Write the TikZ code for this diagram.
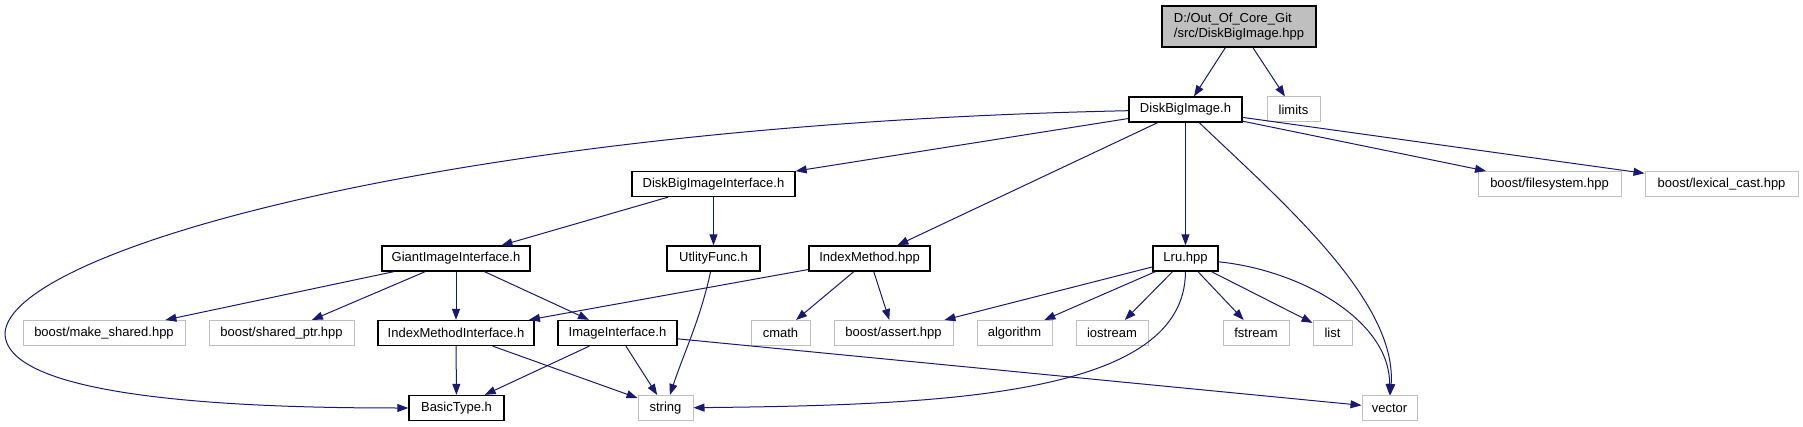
\documentclass[tikz,border=0pt]{standalone}
\usepackage{fontspec}
\setmainfont{Liberation Sans}
\usetikzlibrary{arrows.meta}
\definecolor{navy}{HTML}{191970}
\definecolor{lgrey}{HTML}{BFBFBF}

\begin{document}
\begin{tikzpicture}[x=1pt,y=-1pt,
  file/.style={draw=black,line width=1.3pt,fill=white,minimum height=25pt,inner sep=2pt,
    font=\fontsize{13}{15}\selectfont},
  sys/.style={file,draw=lgrey,line width=1pt},
  dep/.style={draw=navy,line width=1pt,-{Triangle[length=11pt,width=8pt]}}]
  \useasboundingbox (0,0) rectangle (1803,427);
  % rows: top file, DiskBigImage.h, interfaces, headers, leaves
  \node[file,fill=lgrey,minimum width=154pt,minimum height=41pt,align=left] (root) at (1239,26.5) {D:/Out\_Of\_Core\_Git\\/src/DiskBigImage.hpp};
  \node[file,minimum width=113pt] (dbi) at (1185.5,109.5) {DiskBigImage.h};
  \node[sys,minimum width=53pt] (limits) at (1293.5,109.5) {limits};
  \node[file,minimum width=163pt] (dbii) at (713.5,184) {DiskBigImageInterface.h};
  \node[sys,minimum width=143pt] (fs) at (1549.5,184) {boost/filesystem.hpp};
  \node[sys,minimum width=153pt] (lex) at (1721.5,184) {boost/lexical\_cast.hpp};
  \node[file,minimum width=148pt] (gii) at (456,258.5) {GiantImageInterface.h};
  \node[file,minimum width=93pt] (util) at (713.5,258.5) {UtlityFunc.h};
  \node[file,minimum width=121pt] (imh) at (869.5,258.5) {IndexMethod.hpp};
  \node[file,minimum width=65pt] (lru) at (1185.5,258.5) {Lru.hpp};
  \node[sys,minimum width=162pt] (mks) at (104,333) {boost/make\_shared.hpp};
  \node[sys,minimum width=145pt] (shp) at (281.5,333) {boost/shared\_ptr.hpp};
  \node[file,minimum width=156pt] (imi) at (456,333) {IndexMethodInterface.h};
  \node[file,minimum width=119pt] (ii) at (617.5,333) {ImageInterface.h};
  \node[sys,minimum width=59pt] (cmath) at (780.5,333) {cmath};
  \node[sys,minimum width=119pt] (assert) at (893.5,333) {boost/assert.hpp};
  \node[sys,minimum width=75pt] (algo) at (1014.5,333) {algorithm};
  \node[sys,minimum width=72pt] (iost) at (1112,333) {iostream};
  \node[sys,minimum width=66pt] (fstr) at (1256,333) {fstream};
  \node[sys,minimum width=39pt] (list) at (1332.5,333) {list};
  \node[file,minimum width=95pt] (basic) at (456.5,408) {BasicType.h};
  \node[sys,minimum width=55pt] (string) at (665.5,408) {string};
  \node[sys,minimum width=55pt] (vector) at (1389.5,408) {vector};
  % straight includes
  \foreach \a/\b in {root/dbi,root/limits,dbi/dbii,dbi/imh,dbi/lru,dbi/fs,dbi/lex,
    dbii/gii,dbii/util,gii/mks,gii/shp,gii/imi,gii/ii,imh/imi,imh/cmath,imh/assert,
    imi/basic,imi/string,ii/basic,ii/string,ii/vector,
    lru/assert,lru/algo,lru/iost,lru/fstr,lru/list}
    \draw[dep] (\a) -- (\b);
  % curved includes
  \draw[dep] (dbi) .. controls (450,125) and (10,250) .. (5,333) .. controls (5,400) and (250,408) .. (basic);
  \draw[dep] (dbi) .. controls (1280,200) and (1397,300) .. (vector);
  \draw[dep] (util) .. controls (700,320) and (685,350) .. (string);
  \draw[dep] (lru) .. controls (1185,395) and (950,405) .. (string);
  \draw[dep] (lru) .. controls (1300,270) and (1390,320) .. (vector);
\end{tikzpicture}
\end{document}
